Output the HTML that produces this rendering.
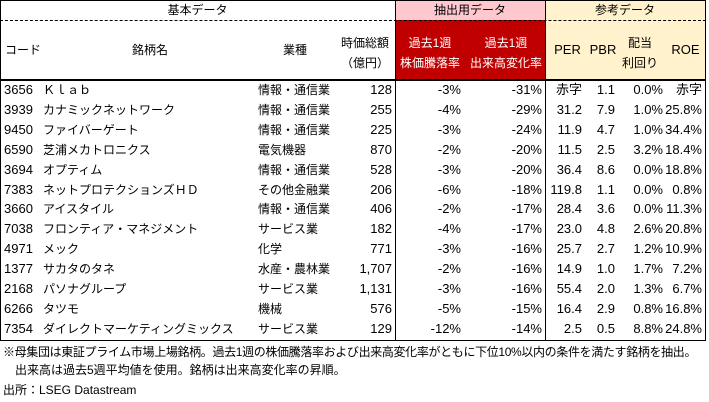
<!DOCTYPE html>
<html><head><meta charset="utf-8"><style>
body{margin:0;width:709px;height:402px;background:#fff;position:relative;overflow:hidden;font-family:"Liberation Sans","Noto Sans CJK JP",sans-serif;font-size:12px;color:#000}
.a{position:absolute;white-space:nowrap;line-height:14px}
.r{text-align:right}.c{text-align:center}
.n{font-size:13px}
</style></head><body>
<div style="position:absolute;left:395px;top:0;width:150px;height:20px;background:#ffc7ce"></div>
<div style="position:absolute;left:395px;top:20px;width:150px;height:60px;background:#c00000"></div>
<div style="position:absolute;left:545px;top:0;width:160px;height:80px;background:#fff2cc"></div>
<div style="position:absolute;left:0;top:0;width:706px;height:1px;background:#000"></div>
<div style="position:absolute;left:0;top:20px;width:706px;border-top:1px dashed #000"></div>
<div style="position:absolute;left:0;top:79px;width:706px;height:2px;background:#000"></div>
<div style="position:absolute;left:0;top:340px;width:706px;height:1px;background:#000"></div>
<div style="position:absolute;left:0;top:0;width:1px;height:341px;background:#000"></div>
<div style="position:absolute;left:395px;top:0;width:1px;height:341px;background:#000"></div>
<div style="position:absolute;left:545px;top:0;width:1px;height:341px;background:#000"></div>
<div style="position:absolute;left:705px;top:0;width:1px;height:341px;background:#000"></div>

<div class="a c" style="left:0;width:395px;top:3px">基本データ</div>
<div class="a c" style="left:395px;width:150px;top:3px">抽出用データ</div>
<div class="a c" style="left:545px;width:160px;top:3px">参考データ</div>
<div class="a" style="left:5px;top:43px">コード</div>
<div class="a c" style="left:120px;width:60px;top:43px">銘柄名</div>
<div class="a c" style="left:270px;width:50px;top:43px">業種</div>
<div class="a c" style="left:335px;width:60px;top:33px;line-height:20px">時価総額<br>（億円）</div>
<div class="a c" style="left:395px;width:70px;top:33px;line-height:20px;color:#fff">過去1週<br>株価騰落率</div>
<div class="a c" style="left:467px;width:78px;top:33px;line-height:20px;color:#fff">過去1週<br>出来高変化率</div>
<div class="a c n" style="left:550px;width:35px;top:43px">PER</div>
<div class="a c n" style="left:588px;width:30px;top:43px">PBR</div>
<div class="a c" style="left:620px;width:40px;top:33px;line-height:20px">配当<br>利回り</div>
<div class="a c n" style="left:668px;width:35px;top:43px">ROE</div>

<div class="a" style="left:3px;top:345px;letter-spacing:-0.35px">※母集団は東証プライム市場上場銘柄。過去1週の株価騰落率および出来高変化率がともに下位10%以内の条件を満たす銘柄を抽出。</div>
<div class="a" style="left:15px;top:363px">出来高は過去5週平均値を使用。銘柄は出来高変化率の昇順。</div>
<div class="a" style="left:3px;top:383px">出所：LSEG Datastream</div>

<script>
const codes=["3656","3939","9450","6590","3694","7383","3660","7038","4971","1377","2168","6266","7354"];
const names=["Ｋｌａｂ","カナミックネットワーク","ファイバーゲート","芝浦メカトロニクス","オプティム","ネットプロテクションズＨＤ","アイスタイル","フロンティア・マネジメント","メック","サカタのタネ","パソナグループ","タツモ","ダイレクトマーケティングミックス"];
const industries=["情報・通信業","情報・通信業","情報・通信業","電気機器","情報・通信業","その他金融業","情報・通信業","サービス業","化学","水産・農林業","サービス業","機械","サービス業"];
const caps=["128","255","225","870","528","206","406","182","771","1,707","1,131","576","129"];
const priceChg=["-3%","-4%","-3%","-2%","-3%","-6%","-2%","-4%","-3%","-2%","-3%","-5%","-12%"];
const volChg=["-31%","-29%","-24%","-20%","-20%","-18%","-17%","-17%","-16%","-16%","-16%","-15%","-14%"];
const per=["赤字","31.2","11.9","11.5","36.4","119.8","28.4","23.0","25.7","14.9","55.4","16.4","2.5"];
const pbr=["1.1","7.9","4.7","2.5","8.6","1.1","3.6","4.8","2.7","1.0","2.0","2.9","0.5"];
const yld=["0.0%","1.0%","1.0%","3.2%","0.0%","0.0%","0.0%","2.6%","1.2%","1.7%","1.3%","0.8%","8.8%"];
const roe=["赤字","25.8%","34.4%","18.4%","18.8%","0.8%","11.3%","20.8%","10.9%","7.2%","6.7%","16.8%","24.8%"];
function cell(txt,left,right,top,name,num){
  const d=document.createElement('div');
  d.className='a'+(right!==null?' r':'')+(num?' n':'');
  d.textContent=txt;
  d.style.top=top+'px';
  if(right!==null){d.style.right=(709-right)+'px';}else{d.style.left=left+'px';}
  
  
  document.body.appendChild(d);
}
for(let i=0;i<codes.length;i++){
  const t=Math.round(83+i*19.9);
  cell(codes[i],4,null,t,'code-cell',true);
  cell(names[i],43,null,t,'name-cell',false);
  cell(industries[i],258,null,t,'industry-cell',false);
  cell(caps[i],null,392,t,'market-cap-cell',true);
  cell(priceChg[i],null,461,t,'price-change-cell',true);
  cell(volChg[i],null,542,t,'volume-change-cell',true);
  cell(per[i],null,582,t,'per-cell',true);
  cell(pbr[i],null,615,t,'pbr-cell',true);
  cell(yld[i],null,663,t,'yield-cell',true);
  cell(roe[i],null,702,t,'roe-cell',true);
}
</script>
</body></html>
